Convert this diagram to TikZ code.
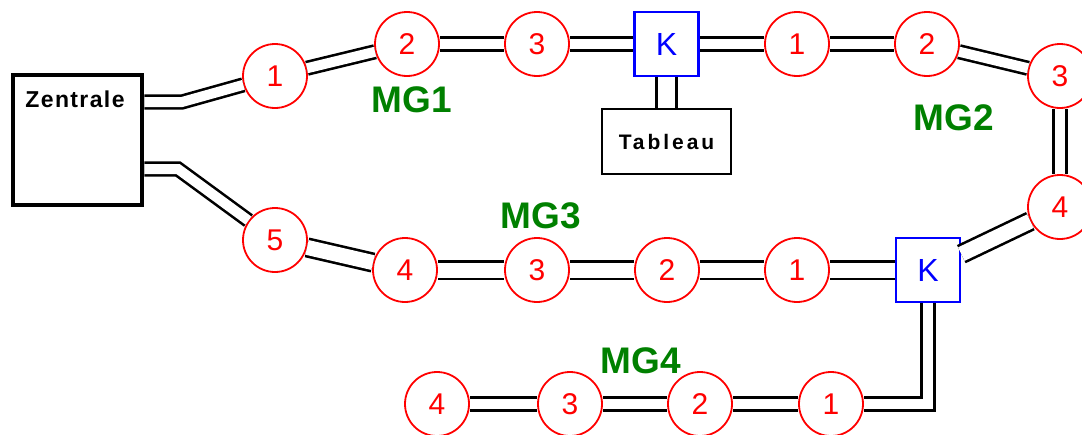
\documentclass[tikz,border=0pt]{standalone}
\usepackage{fontspec}
\setmainfont{Liberation Sans}
\newfontfamily\zenfont[LetterSpace=6]{Liberation Sans}
\newfontfamily\tabfont[LetterSpace=14]{Liberation Sans}
\usetikzlibrary{calc}
\definecolor{ring}{RGB}{255, 0, 0}
\definecolor{kblue}{RGB}{0, 0, 255}
\definecolor{grp}{RGB}{0, 128, 0}

\begin{document}
\begin{tikzpicture}[x=1pt, y=-1pt,
    stn/.style={circle, draw=ring, line width=1.8pt, fill=white, minimum size=64pt,
      inner sep=0pt, text=ring, font=\fontsize{30}{30}\selectfont},
    kn/.style={draw=kblue, line width=2.6pt, fill=white, minimum size=64pt,
      inner sep=0pt, text=kblue, font=\fontsize{32}{32}\selectfont},
    wire/.style={double distance=10pt, line width=2.6pt, line join=miter},
    grplbl/.style={text=grp, font=\fontsize{37}{37}\selectfont\bfseries}]
  \useasboundingbox (0,0) rectangle (1082,434);
  % central unit and panel
  \node[draw, line width=4.5pt, minimum width=129pt, minimum height=130pt] (zen) at (77.5,140) {};
  \node[font=\fontsize{23}{23}\selectfont\bfseries\zenfont] (zenlbl) at (75,99) {Zentrale};
  \node[draw, line width=2pt, minimum width=129pt, minimum height=65pt,
    font=\fontsize{21}{21}\selectfont\bfseries\tabfont] (tab) at (666.5,141.5) {Tableau};
  \node[kn] (k1) at (666.5,44) {K};
  \node[kn] (k2) at (928,270) {K};
  % stations
  \foreach \id/\x/\y/\t in {m11/275/76/1, m12/407/44/2, m13/537/44/3,
      m21/797/44/1, m22/927/44/2, m23/1060/76/3, m24/1060/207/4,
      m31/797/270/1, m32/667/270/2, m33/537/270/3, m34/405/270/4, m35/275/240/5,
      m41/831/404/1, m42/700/404/2, m43/570/404/3, m44/437/404/4}
    \node[stn] (\id) at (\x,\y) {\t};
  \node[grplbl] (mg1) at (412,100) {MG1};
  \node[grplbl] (mg2) at (954,118) {MG2};
  \node[grplbl] (mg3) at (541,216) {MG3};
  \node[grplbl] (mg4) at (641,361) {MG4};
  % lines
  \coordinate (za) at (182,102);
  \coordinate (zb) at (178,169);
  \draw[wire] (zen.east |- za) -- (za) -- (m11);
  \draw[wire] (zen.east |- zb) -- (zb) -- (m35);
  \foreach \a/\b in {m11/m12, m12/m13, m13/k1, k1/m21, m21/m22, m22/m23, m23/m24,
      m41/m42, m42/m43, m43/m44}
    \draw[wire] (\a) -- (\b);
  \foreach \a/\b in {m24/k2, k2/m31, m31/m32, m32/m33, m33/m34, m34/m35}
    \draw[wire, double distance=15pt] (\a) -- (\b);
  \draw[wire] (k2.south) -- (k2.south |- m41) -- (m41);
  \draw[wire, double distance=17pt] (k1.south) -- (tab.north);
\end{tikzpicture}
\end{document}
